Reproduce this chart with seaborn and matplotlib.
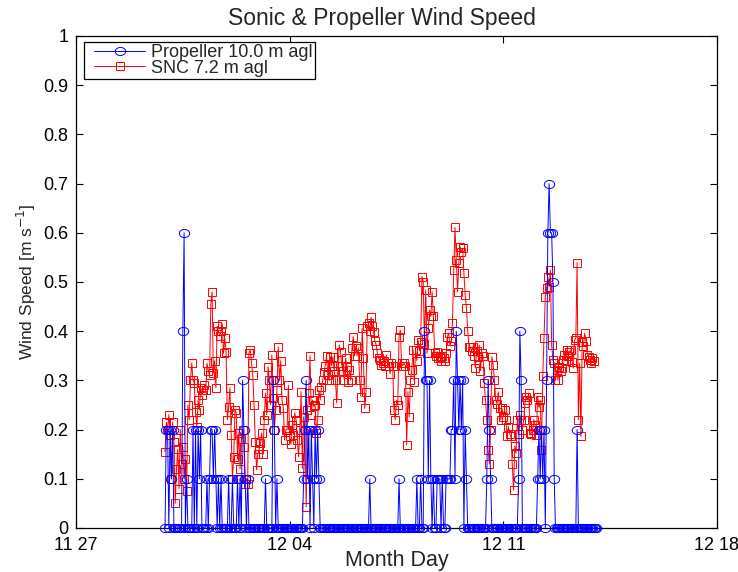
import numpy as np
import pandas as pd
import matplotlib
matplotlib.use("Agg")
import matplotlib.pyplot as plt
from matplotlib.path import Path
from matplotlib.legend_handler import HandlerLine2D
import seaborn as sns

sns.set_style("ticks")
plt.rcParams["font.family"] = ["Liberation Sans", "DejaVu Sans"]

# ---------------- data (hourly samples) ----------------
start_time = "2011-11-29 22:00"

prop_speed = [
    0, 0.2, 0.2, 0, 0.2, 0.1, 0.2, 0, 0, 0, 0, 0, 0, 0, 0.4, 0.6, 0, 0.1, 0, 0, 0, 0, 0.2, 0,
    0.2, 0, 0.2, 0.1, 0.2, 0, 0, 0, 0, 0.1, 0, 0.1, 0.2, 0.2, 0.1, 0.2, 0.1, 0, 0.1, 0, 0.1, 0, 0, 0,
    0, 0, 0.1, 0, 0, 0.1, 0, 0, 0, 0.1, 0, 0.1, 0, 0.3, 0.2, 0.1, 0, 0.1, 0, 0, 0, 0, 0, 0,
    0, 0, 0, 0, 0, 0, 0, 0.1, 0, 0, 0, 0, 0, 0.3, 0.2, 0, 0.1, 0, 0, 0, 0, 0, 0, 0,
    0, 0, 0, 0, 0, 0, 0, 0, 0, 0, 0, 0, 0, 0.1, 0.2, 0.3, 0.1, 0.2, 0, 0.2, 0.1, 0, 0.2, 0.1,
    0.2, 0.1, 0, 0, 0, 0, 0, 0, 0, 0, 0, 0, 0, 0, 0, 0, 0, 0, 0, 0, 0, 0, 0, 0,
    0, 0, 0, 0, 0, 0, 0, 0, 0, 0, 0, 0, 0, 0, 0, 0, 0, 0.1, 0, 0, 0, 0, 0, 0,
    0, 0, 0, 0, 0, 0, 0, 0, 0, 0, 0, 0, 0, 0, 0, 0, 0.1, 0, 0, 0, 0, 0, 0, 0,
    0, 0, 0, 0, 0, 0, 0.1, 0, 0, 0.1, 0, 0, 0.4, 0.3, 0.3, 0.1, 0.3, 0.1, 0, 0.1, 0, 0, 0.1, 0.1,
    0.1, 0, 0.1, 0, 0, 0.1, 0.1, 0.1, 0.1, 0.2, 0.2, 0.3, 0.1, 0.4, 0.3, 0.2, 0.3, 0.2, 0.3, 0, 0.2, 0.1, 0, 0,
    0, 0, 0, 0, 0, 0, 0, 0, 0, 0, 0, 0, 0, 0.1, 0.3, 0.2, 0.1, 0, 0, 0, 0, 0, 0, 0,
    0, 0, 0, 0, 0, 0, 0, 0, 0, 0, 0, 0, 0, 0, 0.1, 0.4, 0.3, 0, 0, 0, 0, 0, 0, 0,
    0, 0, 0, 0, 0, 0.1, 0.2, 0.1, 0.2, 0.1, 0.2, 0, 0.3, 0.6, 0.7, 0.6, 0.6, 0.5, 0.1, 0, 0, 0, 0, 0,
    0, 0, 0, 0, 0, 0, 0, 0, 0, 0, 0, 0, 0.2, 0, 0, 0, 0, 0, 0, 0, 0, 0, 0, 0,
    0, 0, 0, 0,
]

snc_speed = [
    0.155, 0.215, 0.20, 0.23, 0.19, 0.10, 0.215, 0.175, 0.05, 0.12, 0.16, 0.08, 0.20, 0.13, 0.165, 0.10, 0.14, 0.075, 0.25, 0.22, 0.30, 0.335, 0.30, 0.295,
    0.235, 0.205, 0.26, 0.24, 0.285, 0.27, 0.28, 0.29, 0.28, 0.335, 0.32, 0.31, 0.455, 0.48, 0.315, 0.34, 0.285, 0.41, 0.40, 0.39, 0.40, 0.415, 0.355, 0.386,
    0.358, 0.22, 0.245, 0.285, 0.19, 0.10, 0.145, 0.24, 0.234, 0.14, 0.193, 0.12, 0.18, 0.20, 0.165, 0.09, 0.10, 0.09, 0.355, 0.362, 0.335, 0.31, 0.25, 0.175,
    0.118, 0.15, 0.16, 0.172, 0.193, 0.15, 0.22, 0.274, 0.23, 0.328, 0.30, 0.25, 0.352, 0.264, 0.20, 0.24, 0.28, 0.368, 0.30, 0.34, 0.26, 0.244, 0.179, 0.20,
    0.20, 0.29, 0.186, 0.17, 0.21, 0.19, 0.234, 0.22, 0.179, 0.145, 0.20, 0.277, 0.121, 0.226, 0.20, 0.043, 0.24, 0.274, 0.35, 0.23, 0.26, 0.247, 0.25, 0.193,
    0.22, 0.28, 0.26, 0.287, 0.30, 0.318, 0.33, 0.35, 0.31, 0.30, 0.348, 0.33, 0.348, 0.32, 0.30, 0.254, 0.33, 0.372, 0.358, 0.33, 0.32, 0.30, 0.345, 0.328,
    0.297, 0.321, 0.30, 0.366, 0.389, 0.35, 0.369, 0.35, 0.366, 0.30, 0.267, 0.406, 0.345, 0.243, 0.277, 0.41, 0.416, 0.40, 0.428, 0.41, 0.399, 0.38, 0.372, 0.355,
    0.345, 0.341, 0.331, 0.335, 0.34, 0.33, 0.352, 0.335, 0.33, 0.314, 0.335, 0.33, 0.24, 0.22, 0.26, 0.25, 0.389, 0.402, 0.335, 0.33, 0.335, 0.33, 0.169, 0.277,
    0.226, 0.30, 0.321, 0.362, 0.297, 0.362, 0.34, 0.382, 0.36, 0.379, 0.511, 0.50, 0.375, 0.484, 0.355, 0.406, 0.443, 0.43, 0.48, 0.43, 0.355, 0.35, 0.358, 0.345,
    0.348, 0.34, 0.35, 0.345, 0.34, 0.355, 0.389, 0.396, 0.37, 0.38, 0.416, 0.524, 0.611, 0.545, 0.48, 0.538, 0.572, 0.56, 0.569, 0.518, 0.474, 0.447, 0.40, 0.368,
    0.368, 0.36, 0.368, 0.35, 0.325, 0.36, 0.348, 0.372, 0.32, 0.355, 0.35, 0.294, 0.26, 0.22, 0.159, 0.131, 0.20, 0.348, 0.331, 0.30, 0.26, 0.253, 0.277, 0.243,
    0.22, 0.243, 0.226, 0.24, 0.22, 0.186, 0.206, 0.192, 0.186, 0.131, 0.077, 0.167, 0.152, 0.22, 0.192, 0.23, 0.22, 0.20, 0.22, 0.254, 0.267, 0.26, 0.274, 0.193,
    0.192, 0.20, 0.22, 0.21, 0.19, 0.267, 0.245, 0.26, 0.159, 0.308, 0.386, 0.47, 0.487, 0.51, 0.49, 0.524, 0.372, 0.341, 0.335, 0.30, 0.321, 0.30, 0.328, 0.32,
    0.325, 0.341, 0.352, 0.34, 0.362, 0.35, 0.358, 0.362, 0.338, 0.325, 0.382, 0.386, 0.539, 0.22, 0.335, 0.186, 0.379, 0.37, 0.396, 0.38, 0.352, 0.348, 0.341, 0.335,
    0.345, 0.34,
]

tick_dates = ["2011-11-27", "2011-12-04", "2011-12-11", "2011-12-18"]
tick_labels = ["11 27", "12 04", "12 11", "12 18"]
y_ticks = [0, 0.1, 0.2, 0.3, 0.4, 0.5, 0.6, 0.7, 0.8, 0.9, 1.0]
y_tick_labels = ["0", "0.1", "0.2", "0.3", "0.4", "0.5", "0.6", "0.7", "0.8", "0.9", "1"]

prop_time = pd.date_range(start_time, periods=len(prop_speed), freq="h")
snc_time = pd.date_range(start_time, periods=len(snc_speed), freq="h")
prop_df = pd.DataFrame({"time": prop_time, "speed": prop_speed})
snc_df = pd.DataFrame({"time": snc_time, "speed": snc_speed})

# MATLAB-like slightly flattened circle marker
circ = Path.unit_circle()
ellipse = Path(circ.vertices * np.array([1.0, 0.78]), circ.codes)


class ShiftedLineHandler(HandlerLine2D):
    """Legend line handle drawn with some empty space on its left."""

    def __init__(self, shift, **kw):
        super().__init__(**kw)
        self.shift = shift

    def create_artists(self, legend, orig_handle, xdescent, ydescent, width,
                       height, fontsize, trans):
        return super().create_artists(legend, orig_handle, xdescent - self.shift,
                                      ydescent, width - self.shift, height,
                                      fontsize, trans)


W, H = 738, 572
fig = plt.figure(figsize=(W / 100, H / 100), dpi=100)
ax = fig.add_axes([76 / W, 44 / H, 641 / W, 492 / H])

sns.lineplot(data=snc_df, x="time", y="speed", ax=ax, color="red", marker="s",
             markersize=6, markerfacecolor="none", markeredgecolor="red",
             markeredgewidth=0.7, linewidth=0.7, label="SNC 7.2 m agl",
             zorder=2, clip_on=False)
sns.lineplot(data=prop_df, x="time", y="speed", ax=ax, color="blue", marker=ellipse,
             markersize=7.5, markerfacecolor="none", markeredgecolor="blue",
             markeredgewidth=0.7, linewidth=0.7, label="Propeller 10.0 m agl",
             zorder=3, clip_on=False)

for line, col in zip(ax.lines, ["red", "blue"]):
    line.set_color(col)
    line.set_markeredgecolor(col)
    line.set_markerfacecolor("none")

ax.set_xlim(pd.Timestamp(tick_dates[0]), pd.Timestamp(tick_dates[-1]))
ax.set_ylim(0, 1)
ax.set_xticks([pd.Timestamp(d) for d in tick_dates])
ax.set_xticklabels(tick_labels)
ax.set_yticks(y_ticks)
ax.set_yticklabels(y_tick_labels)
ax.tick_params(direction="in", top=True, right=True, length=5, width=0.8,
               labelsize=13, colors="black")
ax.tick_params(axis="x", pad=6.8)
ax.tick_params(axis="y", pad=5.5)
for s in ax.spines.values():
    s.set_visible(True)
    s.set_color("black")
    s.set_linewidth(0.9)
    s.set_zorder(1)

ax.set_xlabel("Month Day", fontsize=15.5, labelpad=-3.2)
ax.set_ylabel("Wind Speed [m s$^{-1}$]", fontsize=12.5, labelpad=3.5)
ax.set_title("Sonic & Propeller Wind Speed", fontsize=16.5, pad=8, x=0.477)

handles, labels = ax.get_legend_handles_labels()
order = [labels.index("Propeller 10.0 m agl"), labels.index("SNC 7.2 m agl")]
leg_handles = [handles[i] for i in order]
leg_labels = [labels[i] for i in order]
shift_pt = 5.8
leg = ax.legend(leg_handles, leg_labels,
                handler_map={h: ShiftedLineHandler(shift_pt) for h in leg_handles},
                loc="upper left", bbox_to_anchor=(0.0125, 0.988), fontsize=13,
                frameon=True, fancybox=False, edgecolor="black", framealpha=1,
                handlelength=3.25, handletextpad=0.33, labelspacing=-0.08,
                borderpad=0.12, borderaxespad=0)
leg.get_frame().set_linewidth(0.9)
leg.set_zorder(5)

fig.savefig("out.png", dpi=100, facecolor="white")
